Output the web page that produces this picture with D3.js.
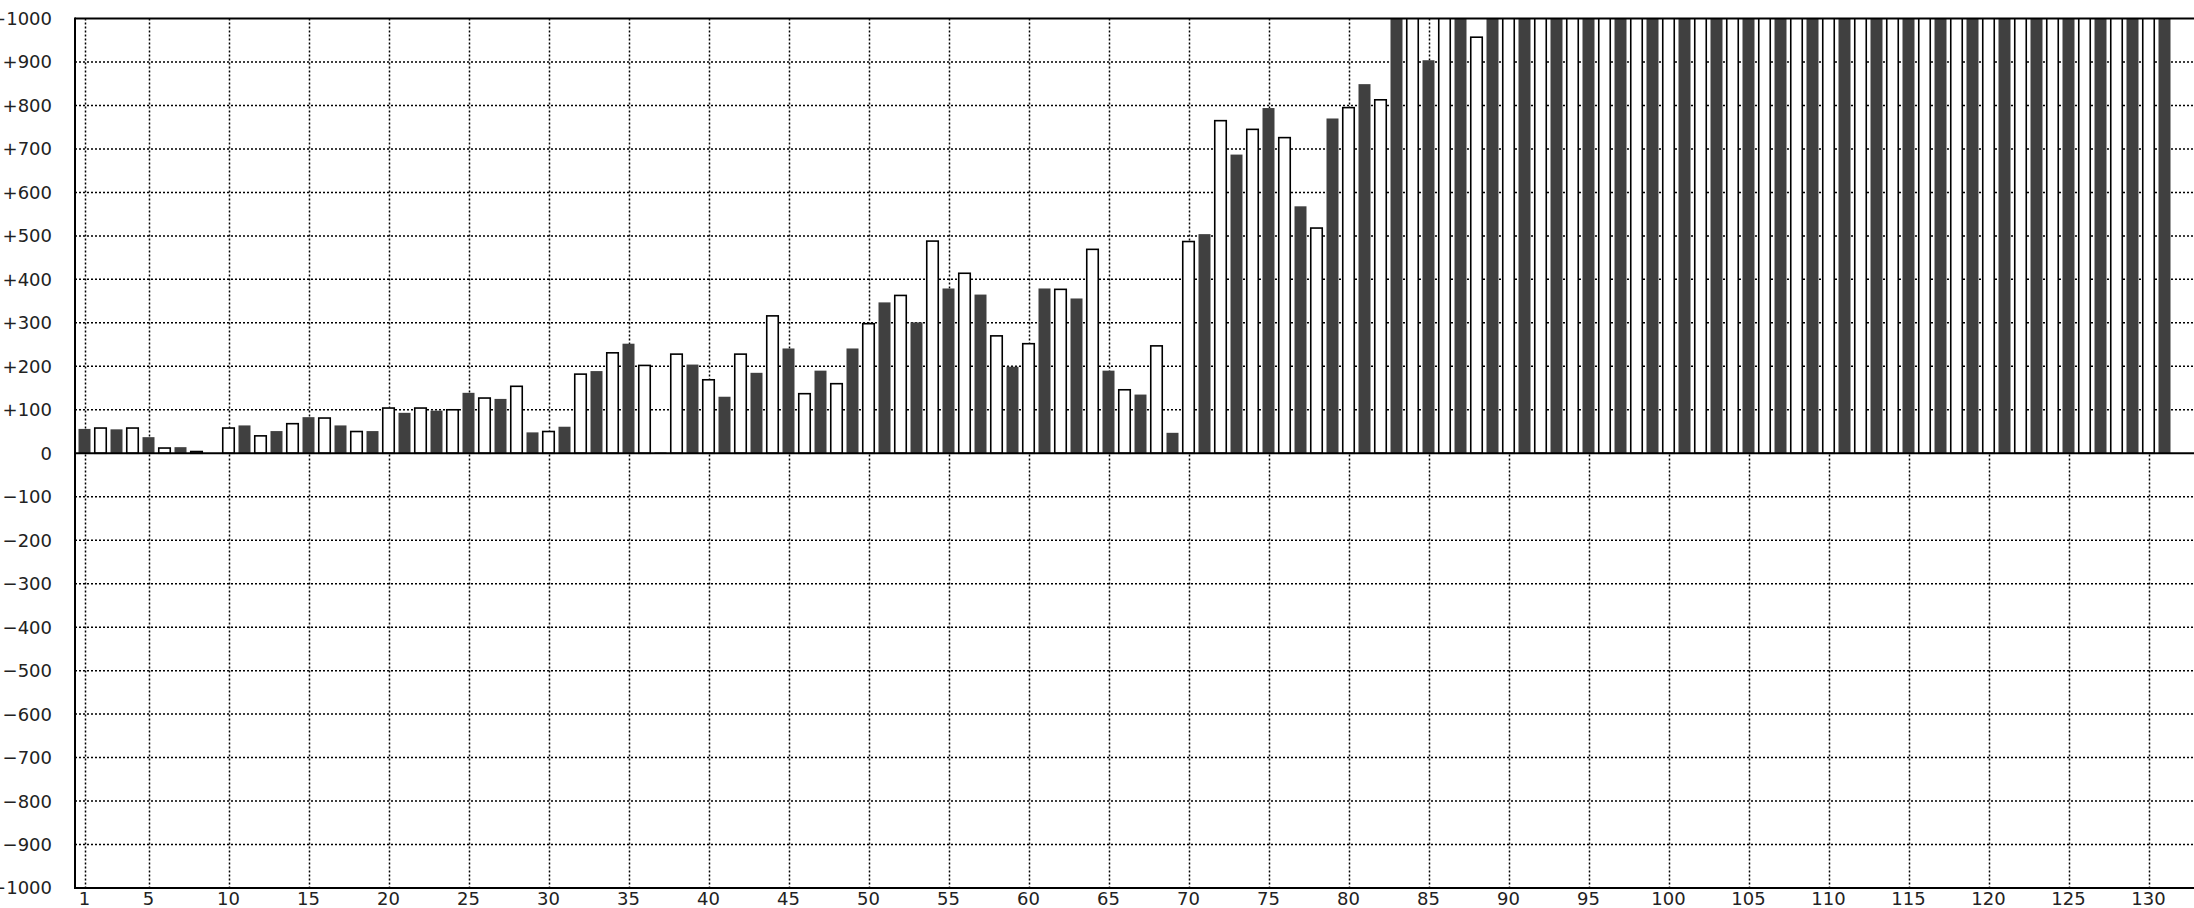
<!DOCTYPE html>
<html>
<head>
<meta charset="utf-8">
<script src="https://cdn.jsdelivr.net/npm/d3@7"></script>
<style>
  html, body { margin: 0; padding: 0; background: #fff; overflow: hidden; }
  svg { display: block; }
</style>
</head>
<body>
<svg id="chart" width="2194" height="908"></svg>
<script>
// ---- data ----
// Odd categories (1, 3, 5, ..., 131) — dark bars
const oddCategories = [1,3,5,7,9,11,13,15,17,19,21,23,25,27,29,31,33,35,37,39,41,43,45,47,49,51,53,55,57,59,61,63,65,67,69,71,73,75,77,79,81,83,85,87,89,91,93,95,97,99,101,103,105,107,109,111,113,115,117,119,121,123,125,127,129,131];
const oddValues = [56,55,37,14,0,64,51,83,64,51,93,98,139,125,48,61,189,252,2,204,130,185,241,190,241,347,301,379,365,199,379,356,190,135,47,504,687,794,568,770,849,1000,904,1000,1000,1000,1000,1000,1000,1000,1000,1000,1000,1000,1000,1000,1000,1000,1000,1000,1000,1000,1000,1000,1000,1000];
// Even categories (2, 4, ..., 130) — white bars
const evenCategories = [2,4,6,8,10,12,14,16,18,20,22,24,26,28,30,32,34,36,38,40,42,44,46,48,50,52,54,56,58,60,62,64,66,68,70,72,74,76,78,80,82,84,86,88,90,92,94,96,98,100,102,104,106,108,110,112,114,116,118,120,122,124,126,128,130];
const evenValues = [58,58,12,4,58,40,68,81,50,104,104,100,127,154,50,182,231,202,228,169,228,316,137,160,298,363,488,414,270,252,377,469,146,247,487,765,745,726,518,795,813,1000,1000,957,1000,1000,1000,1000,1000,1000,1000,1000,1000,1000,1000,1000,1000,1000,1000,1000,1000,1000,1000,1000,1000];
const xTicks = [1,5,10,15,20,25,30,35,40,45,50,55,60,65,70,75,80,85,90,95,100,105,110,115,120,125,130];
const yTicks = [1000,900,800,700,600,500,400,300,200,100,0,-100,-200,-300,-400,-500,-600,-700,-800,-900,-1000];
const yTickLabels = ["+1000","+900","+800","+700","+600","+500","+400","+300","+200","+100","0","−100","−200","−300","−400","−500","−600","−700","−800","−900","−1000"];

// ---- layout ----
const W = 2194, H = 908;
const plotLeft = 75, plotRight = 2194, plotTop = 18.5, plotBottom = 888;
const barW = 12;

const svg = d3.select("#chart");
const x = d3.scaleLinear().domain([1, 131]).range([84.5, 84.5 + 130 * 16]);
const y = d3.scaleLinear().domain([-1000, 1000]).range([plotBottom, plotTop]);

svg.append("defs").append("clipPath").attr("id", "plotClip")
  .append("rect")
  .attr("x", plotLeft).attr("y", plotTop)
  .attr("width", plotRight - plotLeft).attr("height", plotBottom - plotTop);

// grid
const grid = svg.append("g").attr("stroke", "#000").attr("stroke-width", 1.5)
  .attr("stroke-dasharray", "2,2").attr("fill", "none");
grid.selectAll("line.v").data(xTicks).join("line")
  .attr("class", "v")
  .attr("x1", d => Math.round(x(d)) + 0.5).attr("x2", d => Math.round(x(d)) + 0.5)
  .attr("y1", plotTop).attr("y2", plotBottom);
grid.selectAll("line.h").data(yTicks.filter(d => d !== 0 && Math.abs(d) !== 1000)).join("line")
  .attr("class", "h")
  .attr("x1", plotLeft).attr("x2", plotRight)
  .attr("y1", d => y(d)).attr("y2", d => y(d));

// bars
const bars = svg.append("g").attr("clip-path", "url(#plotClip)");
const oddData = oddCategories.map((c, i) => ({c, v: oddValues[i]}));
const evenData = evenCategories.map((c, i) => ({c, v: evenValues[i]}));

bars.selectAll("rect.dark").data(oddData.filter(d => d.v > 0)).join("rect")
  .attr("class", "dark")
  .attr("x", d => x(d.c) - barW / 2)
  .attr("width", barW)
  .attr("y", d => y(d.v) - (d.v >= 1000 ? 5 : 0))
  .attr("height", d => y(0) - y(d.v) + (d.v >= 1000 ? 5 : 0))
  .attr("fill", "#404040");

bars.selectAll("rect.light").data(evenData.filter(d => d.v > 0)).join("rect")
  .attr("class", "light")
  .attr("x", d => x(d.c) - barW / 2 + 0.25)
  .attr("width", barW - 0.5)
  .attr("y", d => y(d.v) - (d.v >= 1000 ? 5 : 0))
  .attr("height", d => y(0) - y(d.v) + (d.v >= 1000 ? 5 : 0))
  .attr("fill", "#fff")
  .attr("stroke", "#000")
  .attr("stroke-width", 1.6);

// frame lines
const frame = svg.append("g").attr("stroke", "#000").attr("stroke-width", 2);
frame.append("line").attr("x1", plotLeft).attr("x2", plotRight).attr("y1", plotTop).attr("y2", plotTop);
frame.append("line").attr("x1", plotLeft).attr("x2", plotRight).attr("y1", y(0)).attr("y2", y(0));
frame.append("line").attr("x1", plotLeft).attr("x2", plotRight).attr("y1", plotBottom).attr("y2", plotBottom);
frame.append("line").attr("x1", plotLeft).attr("x2", plotLeft).attr("y1", plotTop - 1).attr("y2", plotBottom + 1);

// y labels
svg.append("g").selectAll("text").data(yTicks).join("text")
  .attr("x", 52)
  .attr("y", d => y(d))
  .attr("dy", "0.36em")
  .attr("text-anchor", "end")
  .attr("font-family", "DejaVu Sans, sans-serif")
  .attr("font-size", "18px")
  .attr("fill", "#222")
  .text((d, i) => yTickLabels[i]);

// x labels
svg.append("g").selectAll("text").data(xTicks).join("text")
  .attr("x", d => x(d))
  .attr("y", 905)
  .attr("text-anchor", "middle")
  .attr("font-family", "DejaVu Sans, sans-serif")
  .attr("font-size", "18px")
  .attr("fill", "#222")
  .text(d => String(d));
</script>
</body>
</html>
